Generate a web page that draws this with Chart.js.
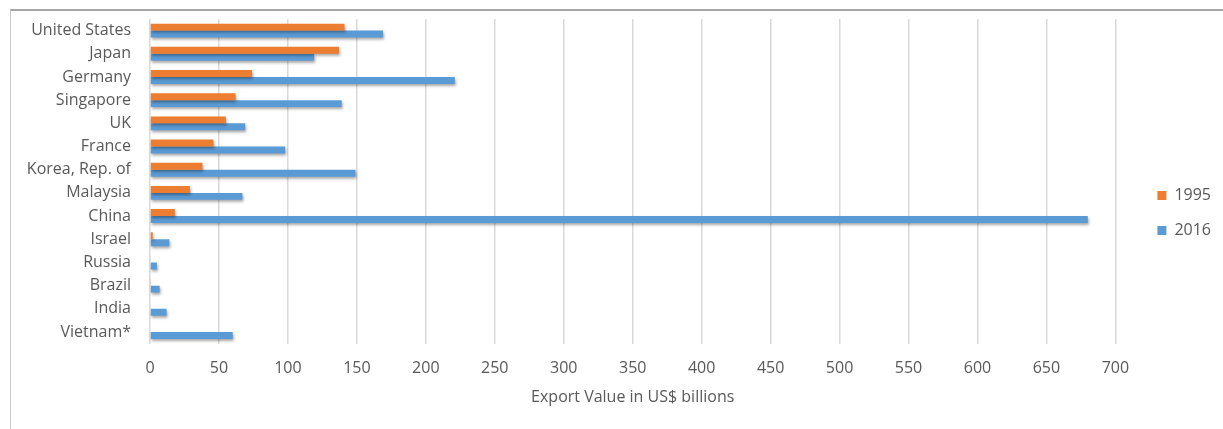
<!DOCTYPE html>
<html>
<head>
<meta charset="utf-8">
<script src="https://cdn.jsdelivr.net/npm/chart.js@4/dist/chart.umd.min.js"></script>
<style>
    html, body { margin: 0; padding: 0; background: #fff; overflow: hidden; }
    #frame { position: absolute; left: 10px; top: 9px; width: 1300px; height: 500px;
             border-top: 2px solid #a6a6a6; border-left: 1px solid #c8c8c8; }
    #wrap { position: absolute; left: 0; top: 0; width: 1223px; height: 429px; }
</style>
</head>
<body>
<div id="frame"></div>
<div id="wrap"><canvas id="chart"></canvas></div>
<script>
const countries = ['United States', 'Japan', 'Germany', 'Singapore', 'UK', 'France', 'Korea, Rep. of',
    'Malaysia', 'China', 'Israel', 'Russia', 'Brazil', 'India', 'Vietnam*'];
const exports1995 = [141, 137, 74, 62, 55, 46, 38, 29, 18, 2, 0.6, 0.7, 0, 0];
const exports2016 = [169, 119, 221, 139, 69, 98, 149, 67, 680, 14, 5, 7, 12, 60];
const xTicks = { min: 0, max: 700, step: 50 };

const FONT = 'Open Sans';
const TEXT = '#595959';

// soft shadow under the bars, like the spreadsheet original
const barShadow = {
    id: 'barShadow',
    beforeDatasetsDraw(chart) {
        const ctx = chart.ctx;
        ctx.save();
        ctx.shadowColor = 'rgba(0,0,0,0.35)';
        ctx.shadowBlur = 3;
        ctx.shadowOffsetX = 1;
        ctx.shadowOffsetY = 2;
    },
    afterDatasetsDraw(chart) {
        chart.ctx.restore();
    }
};

new Chart(document.getElementById('chart'), {
    type: 'bar',
    data: {
        labels: countries,
        datasets: [
            { label: '1995', data: exports1995, backgroundColor: '#ED7D31', categoryPercentage: 0.6, barPercentage: 1 },
            { label: '2016', data: exports2016, backgroundColor: '#5B9BD5', categoryPercentage: 0.6, barPercentage: 1 }
        ]
    },
    options: {
        indexAxis: 'y',
        responsive: true,
        maintainAspectRatio: false,
        animation: false,
        layout: { padding: { top: 19, left: 20, right: 2, bottom: 22 } },
        plugins: {
            legend: {
                position: 'right',
                labels: {
                    boxWidth: 9, boxHeight: 9, padding: 19,
                    color: TEXT, font: { family: FONT, size: 16 }
                }
            },
            tooltip: { enabled: false }
        },
        scales: {
            x: {
                min: xTicks.min, max: xTicks.max,
                ticks: { stepSize: xTicks.step, color: TEXT, font: { family: FONT, size: 16 }, padding: 15 },
                grid: { color: '#d9d9d9', lineWidth: 1.5, drawTicks: false },
                border: { display: false },
                title: { display: true, text: 'Export Value in US$ billions', color: TEXT,
                         font: { family: FONT, size: 16 }, padding: { top: -5, bottom: 0 } }
            },
            y: {
                ticks: { color: TEXT, font: { family: FONT, size: 16 }, padding: 19, autoSkip: false },
                grid: { display: false, drawTicks: false },
                border: { display: false },
                afterFit(scale) {
                    scale.width = 130;
                    scale.paddingTop = 0;
                    scale.paddingBottom = 0;
                }
            },
            // empty axis on the right, only to leave the gap before the legend
            gap: {
                type: 'linear', axis: 'y', position: 'right',
                ticks: { display: false },
                grid: { display: false, drawTicks: false },
                border: { display: false },
                afterFit(scale) {
                    scale.width = 23;
                    scale.paddingTop = 0;
                    scale.paddingBottom = 0;
                }
            }
        }
    },
    plugins: [barShadow]
});
</script>
</body>
</html>
